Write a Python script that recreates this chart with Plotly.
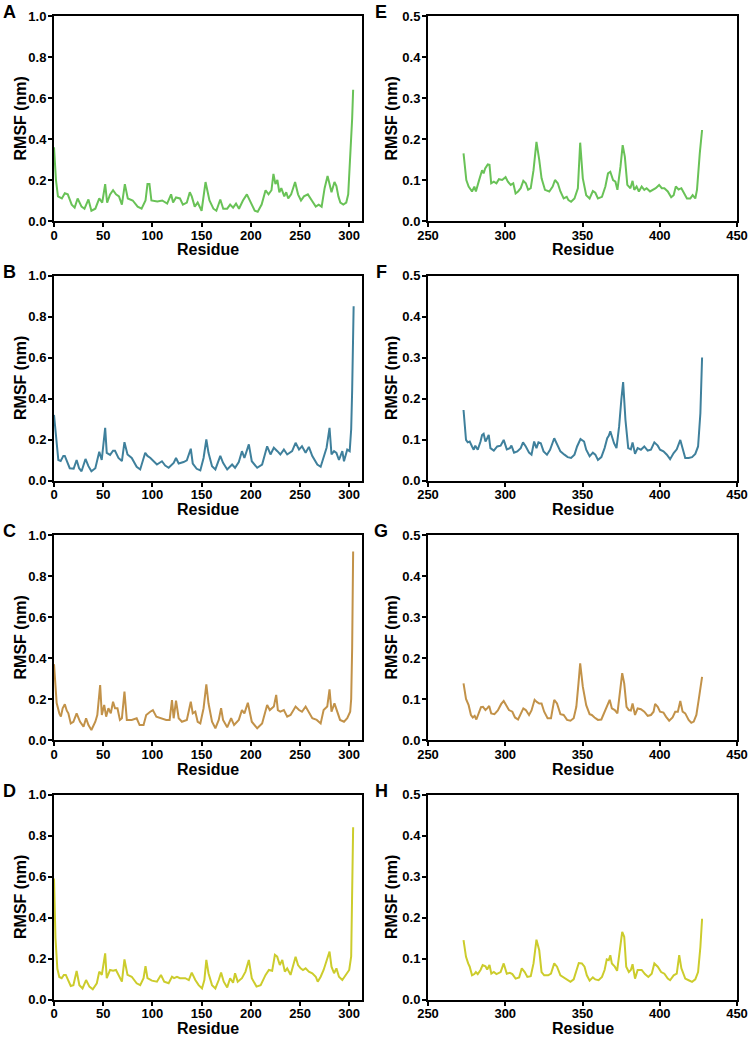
import plotly.graph_objects as go

# ---------------- data ----------------
a_x = [0,2,4,8,11,14,18,21,24,28,31,35,38,42,46,49,52,54,57,60,63,66,69,72,75,80,85,89,93,95,97,99,105,110,115,119,121,124,128,131,135,138,140,143,146,150,154,158,162,165,169,172,176,179,182,185,188,192,196,200,204,207,211,215,218,221,223,225,227,229,231,234,236,238,241,243,245,248,251,254,258,262,266,269,272,275,278,280,282,285,287,289,291,294,297,299,301,303,304]
a_y = [0.36,0.2,0.12,0.11,0.135,0.13,0.08,0.065,0.11,0.07,0.06,0.105,0.05,0.06,0.11,0.09,0.18,0.09,0.13,0.15,0.13,0.12,0.08,0.18,0.11,0.10,0.07,0.06,0.10,0.18,0.18,0.10,0.095,0.10,0.085,0.13,0.09,0.115,0.11,0.08,0.09,0.14,0.12,0.07,0.09,0.05,0.19,0.10,0.06,0.05,0.105,0.06,0.06,0.08,0.065,0.085,0.06,0.10,0.13,0.09,0.05,0.045,0.08,0.15,0.13,0.15,0.23,0.18,0.20,0.14,0.16,0.12,0.14,0.11,0.13,0.16,0.19,0.13,0.10,0.12,0.13,0.10,0.07,0.08,0.07,0.16,0.22,0.18,0.14,0.19,0.17,0.12,0.09,0.08,0.09,0.13,0.30,0.50,0.64]

b_x = [0,2.7,4.4,6.8,9.5,11,13,16,20,23,25.5,28,32,35,38,42,46,48.5,52,53.6,57,60,62,65.5,69,71.6,74.7,79,84,87.6,92.7,95,98,101,104.6,109.7,113,116.5,121.6,124,126.7,131.7,135,139,141,145,148.7,152,154.8,157,160.6,164,169,171.8,176,181,184,187.8,191,193.5,198,201,206.5,211.5,216.6,220,223.4,227,230,233.6,237,242,245.5,249,252,255.7,259,262.5,267.6,271,274,277,280,282,284.6,287,289.6,293,294.7,298,300.5,302,303,304.5]
b_y = [0.32,0.17,0.10,0.095,0.12,0.12,0.095,0.06,0.058,0.10,0.06,0.045,0.105,0.07,0.045,0.06,0.14,0.10,0.257,0.135,0.125,0.145,0.145,0.11,0.095,0.187,0.127,0.11,0.067,0.054,0.135,0.12,0.11,0.094,0.078,0.094,0.073,0.062,0.086,0.11,0.083,0.09,0.098,0.155,0.083,0.057,0.049,0.11,0.20,0.135,0.07,0.054,0.12,0.086,0.054,0.078,0.062,0.09,0.143,0.11,0.176,0.094,0.062,0.078,0.167,0.127,0.16,0.143,0.127,0.151,0.127,0.143,0.184,0.151,0.167,0.135,0.164,0.119,0.078,0.067,0.119,0.16,0.257,0.127,0.143,0.135,0.10,0.143,0.094,0.151,0.143,0.25,0.44,0.85]

c_x = [0,2.7,5.4,7,8.8,11,13,14.6,17,19.7,23,26.5,30,32.6,35,38,42,44,46.9,48.6,51,53,55.3,57.7,60,62,64.5,67,69,71.6,74,79,84,87,91,93.7,97.8,100.5,104,109.7,114,117.5,119.9,121.6,124,126.7,130,135,139,141,143.6,146,148.7,152,154.8,157,160.6,164,167.4,169.8,171.8,176,180,183,187.8,191,193.5,197,201,206.5,211.5,216.6,219.3,223.4,225.8,227.5,230,233.6,237,240.4,245.5,249,252,255.7,259,262.5,267,271,274,277.7,280,282,285,288,290.7,294.7,298,301,302,303,304]
c_y = [0.37,0.18,0.13,0.114,0.155,0.174,0.143,0.13,0.081,0.089,0.13,0.089,0.065,0.106,0.073,0.049,0.089,0.122,0.268,0.122,0.171,0.114,0.155,0.13,0.187,0.155,0.155,0.098,0.106,0.236,0.098,0.098,0.106,0.073,0.073,0.122,0.138,0.146,0.114,0.106,0.098,0.098,0.195,0.106,0.192,0.106,0.089,0.098,0.187,0.13,0.138,0.089,0.081,0.155,0.272,0.179,0.089,0.057,0.098,0.155,0.098,0.062,0.106,0.073,0.098,0.146,0.13,0.182,0.089,0.057,0.081,0.171,0.146,0.163,0.22,0.146,0.138,0.146,0.114,0.122,0.163,0.146,0.138,0.163,0.138,0.106,0.098,0.081,0.146,0.163,0.247,0.138,0.179,0.13,0.098,0.089,0.106,0.138,0.20,0.45,0.92]

d_x = [0,1.5,3.4,5.4,7.8,10,12,14.6,17,19.7,23,25.8,29,32.6,36,39.4,43.5,46,48.6,52,53.6,57,60,63,66.6,69,71.6,74.7,79,84,87.6,91,93,95,99.5,104.6,108.7,112,116.5,119.9,122,125,128,133.4,137,140,143.6,147,150.4,152.8,154.8,157,160.6,164,167.4,169.8,172.5,176,179,182,184,186.7,191,194.6,198,201,205.8,210,215,218.4,221.7,224.5,226.8,229.5,232,234.6,237,240.4,245.5,248,250.6,253,255.7,259,262.5,266,268,271,274,277,280,282,284.6,287,289.6,293,296.4,300,302,303,304]
d_y = [0.59,0.3,0.15,0.11,0.104,0.12,0.12,0.087,0.066,0.07,0.139,0.07,0.054,0.095,0.063,0.05,0.079,0.136,0.12,0.225,0.104,0.144,0.14,0.144,0.111,0.087,0.196,0.12,0.111,0.079,0.07,0.104,0.163,0.104,0.092,0.087,0.12,0.087,0.079,0.111,0.104,0.111,0.104,0.104,0.095,0.131,0.095,0.07,0.054,0.095,0.193,0.128,0.07,0.054,0.095,0.131,0.087,0.059,0.104,0.082,0.128,0.087,0.104,0.136,0.193,0.104,0.063,0.07,0.12,0.144,0.14,0.218,0.209,0.168,0.193,0.136,0.152,0.12,0.209,0.168,0.152,0.144,0.152,0.136,0.128,0.111,0.087,0.111,0.144,0.193,0.234,0.16,0.128,0.152,0.111,0.095,0.12,0.144,0.21,0.45,0.84]

e_x = [273,274.8,276.3,278.5,280,281,282.8,285,286,287,288.7,289.8,290.9,292.6,294.3,295.9,298,300.2,301.7,303.5,305.2,306.7,308.3,310,311.7,313.3,314.8,316.5,318.3,320.2,322,323.5,325.7,328.5,330.7,332.2,334,335.7,337.8,339.8,340.9,342.6,344.8,347,348.5,350.2,352.4,354.6,356.7,358.3,360,362.6,364.8,366.5,368,369.8,371.3,372.6,374.6,376,377.4,379,381,382.4,383.5,385,386.5,388.3,390,391.5,393.7,395.9,397.4,399.6,401.3,403,405.2,407.4,409,410.4,412.2,414,416,417.6,419.8,421.3,423,424.1,425.9,427.4]
e_y = [0.165,0.10,0.084,0.072,0.084,0.072,0.096,0.124,0.116,0.128,0.138,0.137,0.092,0.096,0.092,0.102,0.10,0.107,0.096,0.088,0.092,0.067,0.072,0.08,0.098,0.092,0.076,0.08,0.124,0.193,0.149,0.104,0.076,0.072,0.084,0.10,0.092,0.072,0.055,0.059,0.051,0.047,0.055,0.08,0.191,0.104,0.063,0.055,0.073,0.069,0.055,0.059,0.084,0.116,0.12,0.10,0.096,0.076,0.133,0.185,0.157,0.088,0.08,0.098,0.076,0.084,0.072,0.084,0.076,0.08,0.072,0.076,0.08,0.088,0.08,0.08,0.072,0.058,0.063,0.084,0.077,0.08,0.067,0.055,0.055,0.063,0.055,0.076,0.165,0.222]

f_x = [273,274.6,275.7,277,278.5,279.6,280.6,282.2,284,285,286,287.2,288.3,289.3,290.4,292.6,294.8,297,299,301,303,304,305.7,307.8,310,311.5,313.3,315.4,317,318.7,320.2,321.5,323,324.8,327,329,331.7,333.5,335.7,338.3,340.4,342.6,344.8,346.5,348.7,351,352.4,354.6,356.7,358.3,360,362.2,364.3,366,367,368,369,370.4,372,373.7,375.2,376.3,377.8,379.6,381.3,382.4,384,385.7,387.8,390,392.2,394.3,396.5,398.7,400.2,402.4,404.6,406.7,409,411,413.3,414.8,416.5,418.7,420.9,423,424.8,426.3,427.4]
f_y = [0.172,0.099,0.093,0.095,0.083,0.075,0.085,0.075,0.095,0.111,0.114,0.095,0.103,0.111,0.079,0.073,0.083,0.085,0.099,0.076,0.079,0.085,0.068,0.071,0.079,0.093,0.083,0.068,0.063,0.095,0.079,0.093,0.091,0.071,0.063,0.075,0.103,0.087,0.071,0.063,0.057,0.055,0.063,0.083,0.101,0.095,0.075,0.059,0.068,0.063,0.05,0.057,0.079,0.103,0.109,0.12,0.107,0.091,0.079,0.132,0.20,0.24,0.148,0.079,0.076,0.093,0.065,0.079,0.075,0.083,0.073,0.075,0.093,0.085,0.075,0.071,0.063,0.052,0.067,0.076,0.099,0.075,0.055,0.055,0.057,0.065,0.083,0.164,0.30]

g_x = [273,274.6,276.3,277.8,279,280.2,281.3,282.8,284.3,285.6,287.2,288.3,289.6,290.9,293,295.2,297.4,299,301,302.4,304.6,306.3,308.3,310,311.7,313.3,315.4,317,319,320.4,322,323.5,325.2,327.4,329.6,331.7,333.5,335.7,337.8,340,342.2,344.3,346,347.4,348.5,350.2,352.4,354.6,356,357.8,360,362.2,364.3,366,367.6,369,370.9,372.6,374,375.7,377,378.5,380,381.3,382.4,384,385.7,387.8,390,392.2,394.3,396,397,398.7,400.2,402.4,404,406.1,408.3,410,411.7,413.3,414.8,416.5,418.7,420.4,422,423.7,425.2,427.4]
g_y = [0.138,0.10,0.085,0.061,0.055,0.059,0.05,0.063,0.08,0.081,0.073,0.077,0.083,0.065,0.063,0.072,0.088,0.095,0.081,0.073,0.069,0.055,0.05,0.065,0.077,0.073,0.061,0.072,0.098,0.093,0.089,0.089,0.069,0.053,0.053,0.098,0.089,0.063,0.061,0.049,0.047,0.053,0.081,0.138,0.187,0.13,0.085,0.063,0.061,0.055,0.049,0.05,0.069,0.085,0.098,0.077,0.073,0.065,0.114,0.163,0.138,0.081,0.073,0.072,0.089,0.061,0.077,0.075,0.069,0.059,0.061,0.069,0.088,0.081,0.069,0.067,0.057,0.047,0.055,0.069,0.069,0.095,0.069,0.065,0.049,0.042,0.045,0.061,0.098,0.154]

h_x = [273,274.6,276,277,278.5,280,281,282.2,284,285.4,287.2,288.3,289.8,291,292.6,294.3,297,299,301,303,304.6,306.7,309,310.7,312.6,314.3,316.5,318.3,320.2,322,323.5,325.2,327.8,329.6,331.7,333.5,335.7,337.8,340,342.2,344.3,345.9,347.6,349.6,351.3,352.8,354.6,356.7,358.3,360.4,362.6,364.3,365.7,367,368,369,370.9,372.4,374,375.7,377,378.3,380,381.3,382.4,384,385.7,388.3,390.4,392.6,394.8,396.5,398.7,400.9,403,405.2,406.7,409,411,412.6,414,415.4,416.5,418.7,420.9,423,424.8,426.3,427.4]
h_y = [0.145,0.104,0.088,0.08,0.059,0.062,0.067,0.062,0.072,0.084,0.081,0.073,0.084,0.063,0.067,0.062,0.067,0.088,0.063,0.065,0.062,0.051,0.054,0.076,0.067,0.055,0.057,0.088,0.146,0.12,0.067,0.059,0.059,0.063,0.088,0.08,0.059,0.054,0.047,0.043,0.049,0.067,0.089,0.088,0.08,0.059,0.046,0.054,0.049,0.047,0.055,0.072,0.098,0.096,0.108,0.088,0.08,0.07,0.112,0.165,0.153,0.08,0.067,0.072,0.086,0.051,0.072,0.072,0.062,0.055,0.063,0.088,0.08,0.067,0.063,0.051,0.047,0.059,0.063,0.108,0.076,0.063,0.051,0.047,0.043,0.049,0.067,0.128,0.197]

panel_labels = ["A", "B", "C", "D", "E", "F", "G", "H"]
x_title = "Residue"
y_title = "RMSF (nm)"
left_yticks = [0.0, 0.2, 0.4, 0.6, 0.8, 1.0]
right_yticks = [0.0, 0.1, 0.2, 0.3, 0.4, 0.5]
left_xticks = [0, 50, 100, 150, 200, 250, 300]
right_xticks = [250, 300, 350, 400, 450]

colors = ["#69c257", "#3f809c", "#c29249", "#cccc2c"]

series = [(a_x, a_y), (b_x, b_y), (c_x, c_y), (d_x, d_y),
          (e_x, e_y), (f_x, f_y), (g_x, g_y), (h_x, h_y)]

W, H = 749, 1037
FONT = "Liberation Sans"

# pixel geometry
col_px = [(54, 362), (428, 737)]
ytitle_px = [20, 391]
letter_px = [9, 381]
row_tops = [16, 275.5, 535, 794.5]
PH = 205

fig = go.Figure()
layout = dict(
    width=W, height=H,
    margin=dict(l=0, r=0, t=0, b=0, autoexpand=False),
    paper_bgcolor="white", plot_bgcolor="white",
    showlegend=False,
    font=dict(family=FONT, color="black"),
)
annotations = []

for i, (xs, ys) in enumerate(series):
    col = i // 4
    row = i % 4
    n = i + 1
    xa = "x" if n == 1 else f"x{n}"
    ya = "y" if n == 1 else f"y{n}"
    fig.add_trace(go.Scatter(x=xs, y=ys, mode="lines", xaxis=xa, yaxis=ya,
                             line=dict(color=colors[row], width=2)))
    top = row_tops[row]
    bot = top + PH
    ydom = [1 - bot / H, 1 - top / H]
    x0, x1 = col_px[col]
    xdom = [x0 / W, x1 / W]
    if col == 0:
        xr, xt, yr, yt = [0, 313], left_xticks, [0, 1.0], left_yticks
    else:
        xr, xt, yr, yt = [250, 450], right_xticks, [0, 0.5], right_yticks
    axis_common = dict(
        showline=True, linecolor="black", linewidth=2, mirror=True,
        ticks="outside", ticklen=4, tickwidth=1.5, tickcolor="black",
        showgrid=False, zeroline=False, automargin=False,
        tickfont=dict(family=FONT, size=13, color="black", weight="bold"),
    )
    layout["xaxis" if n == 1 else f"xaxis{n}"] = dict(
        axis_common, domain=xdom, range=xr, tickvals=xt, anchor=ya,
        ticklabelstandoff=-3,
    )
    layout["yaxis" if n == 1 else f"yaxis{n}"] = dict(
        axis_common, domain=ydom, range=yr, tickvals=yt, tickformat=".1f", anchor=xa,
        ticklabelstandoff=-1,
    )
    # axis titles
    annotations.append(dict(
        text=f"<b>{x_title}</b>", x=(x0 + x1) / 2 / W, y=1 - (bot + 29) / H,
        xref="paper", yref="paper", xanchor="center", yanchor="middle",
        showarrow=False, font=dict(family=FONT, size=16, color="black"),
    ))
    annotations.append(dict(
        text=f"<b>{y_title}</b>", x=ytitle_px[col] / W, y=1 - (top + PH / 2) / H,
        xref="paper", yref="paper", xanchor="center", yanchor="middle", textangle=-90,
        showarrow=False, font=dict(family=FONT, size=16, color="black"),
    ))
    annotations.append(dict(
        text=f"<b>{panel_labels[i]}</b>", x=letter_px[col] / W, y=1 - (top - 4) / H,
        xref="paper", yref="paper", xanchor="center", yanchor="middle",
        showarrow=False, font=dict(family=FONT, size=18, color="black"),
    ))

layout["annotations"] = annotations
fig.update_layout(**layout)
# remove the browser's default 8px body margin so the figure fills the window exactly
fig.write_html("out.html", config={"displayModeBar": False},
               post_script="document.body.style.margin='0px';document.body.style.overflow='hidden';")
